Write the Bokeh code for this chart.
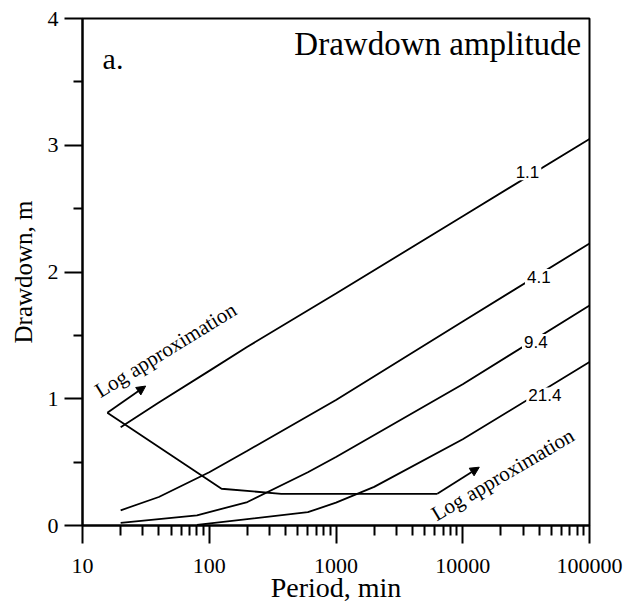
from bokeh.plotting import figure
from bokeh.models import FixedTicker, Range1d, Arrow, NormalHead, PrintfTickFormatter
from bokeh.core.properties import value
from bokeh.embed import file_html
from bokeh.resources import INLINE

# ---- data ----
c11_x = [20, 40, 100, 200, 1000, 10000, 100000]
c11_y = [0.775, 0.97, 1.22, 1.41, 1.83, 2.44, 3.05]

c41_x = [20, 40, 100, 200, 1000, 10000, 100000]
c41_y = [0.12, 0.225, 0.42, 0.59, 0.99, 1.61, 2.225]

c94_x = [20, 80, 200, 600, 1000, 10000, 100000]
c94_y = [0.02, 0.08, 0.185, 0.42, 0.54, 1.115, 1.735]

c214_x = [80, 600, 1000, 2000, 10000, 100000]
c214_y = [0.005, 0.105, 0.18, 0.305, 0.68, 1.29]

approx_x = [15.7, 125, 370, 6300]
approx_y = [0.89, 0.29, 0.25, 0.25]

contour_labels = ["1.1", "4.1", "9.4", "21.4"]
contour_label_x = [32400, 39800, 37700, 44400]
contour_label_y = [2.786, 1.961, 1.448, 1.026]

x_ticks = [10, 100, 1000, 10000, 100000]
x_minor = [k * 10 ** d for d in range(1, 5) for k in range(2, 10)]
y_ticks = [0, 1, 2, 3, 4]
y_minor = [0.5, 1.5, 2.5, 3.5]

SERIF = "Liberation Serif"
SANS = "Liberation Sans"

p = figure(width=629, height=605, x_axis_type="log",
           x_range=Range1d(10, 100000), y_range=Range1d(0, 4),
           output_backend="svg", toolbar_location=None,
           min_border_left=82, min_border_right=40,
           min_border_top=18, min_border_bottom=80)
p.background_fill_color = "white"
p.border_fill_color = "white"
p.outline_line_color = "black"
p.outline_line_width = 2
p.xgrid.visible = False
p.ygrid.visible = False

p.xaxis.ticker = FixedTicker(ticks=x_ticks, minor_ticks=x_minor)
p.xaxis.formatter = PrintfTickFormatter(format="%d")
p.yaxis.ticker = FixedTicker(ticks=y_ticks, minor_ticks=y_minor)

for ax in (p.xaxis[0], p.yaxis[0]):
    ax.axis_line_color = "black"
    ax.axis_line_width = 2
    ax.major_tick_line_color = "black"
    ax.major_tick_line_width = 2
    ax.minor_tick_line_color = "black"
    ax.minor_tick_line_width = 2
    ax.major_tick_in = 0
    ax.minor_tick_in = 0
    ax.major_tick_out = 18
    ax.major_label_text_font = SERIF
    ax.major_label_text_font_size = "22px"
    ax.major_label_text_color = "black"
    ax.axis_label_text_font = SERIF
    ax.axis_label_text_font_style = "normal"
    ax.axis_label_text_color = "black"

p.xaxis.axis_label_text_font_size = "28px"
p.yaxis.axis_label_text_font_size = "25px"
p.xaxis.minor_tick_out = 10
p.yaxis.minor_tick_out = 9
p.xaxis.major_label_standoff = 15
p.yaxis.major_label_standoff = 6
p.xaxis.axis_label = "Period, min"
p.yaxis.axis_label = "Drawdown, m"
p.xaxis.axis_label_standoff = -4
p.yaxis.axis_label_standoff = 8

lw = 1.8
for xs, ys in ((c11_x, c11_y), (c41_x, c41_y), (c94_x, c94_y), (c214_x, c214_y)):
    p.line(xs, ys, line_color="black", line_width=lw)

p.line(approx_x, approx_y, line_color="black", line_width=lw)

p.add_layout(Arrow(end=NormalHead(size=9, fill_color="black", line_color="black"),
                   x_start=approx_x[0], y_start=approx_y[0], x_end=31.5, y_end=1.10,
                   line_color="black", line_width=lw))
p.add_layout(Arrow(end=NormalHead(size=9, fill_color="black", line_color="black"),
                   x_start=approx_x[-1], y_start=approx_y[-1], x_end=13500, y_end=0.46,
                   line_color="black", line_width=lw))

p.text(x=contour_label_x, y=contour_label_y, text=contour_labels,
       text_font=value(SANS), text_font_size="17px", text_color="black",
       text_align="center", text_baseline="middle",
       background_fill_color="white", padding=2)

p.text(x=[13.0], y=[1.05], text=["Log approximation"], angle=0.552,
       text_font=value(SERIF), text_font_size="21px", text_color="black",
       text_align="left", text_baseline="alphabetic")
p.text(x=[5850], y=[0.079], text=["Log approximation"], angle=0.532,
       text_font=value(SERIF), text_font_size="21px", text_color="black",
       text_align="left", text_baseline="alphabetic")

p.text(x=[86000], y=[3.796], text=["Drawdown amplitude"],
       text_font=value(SERIF), text_font_size="33px", text_color="black",
       text_align="right", text_baseline="alphabetic")
p.text(x=[14.4], y=[3.688], text=["a."],
       text_font=value(SERIF), text_font_size="30px", text_color="black",
       text_align="left", text_baseline="alphabetic")

open("out.html", "w").write(file_html(p, INLINE))
